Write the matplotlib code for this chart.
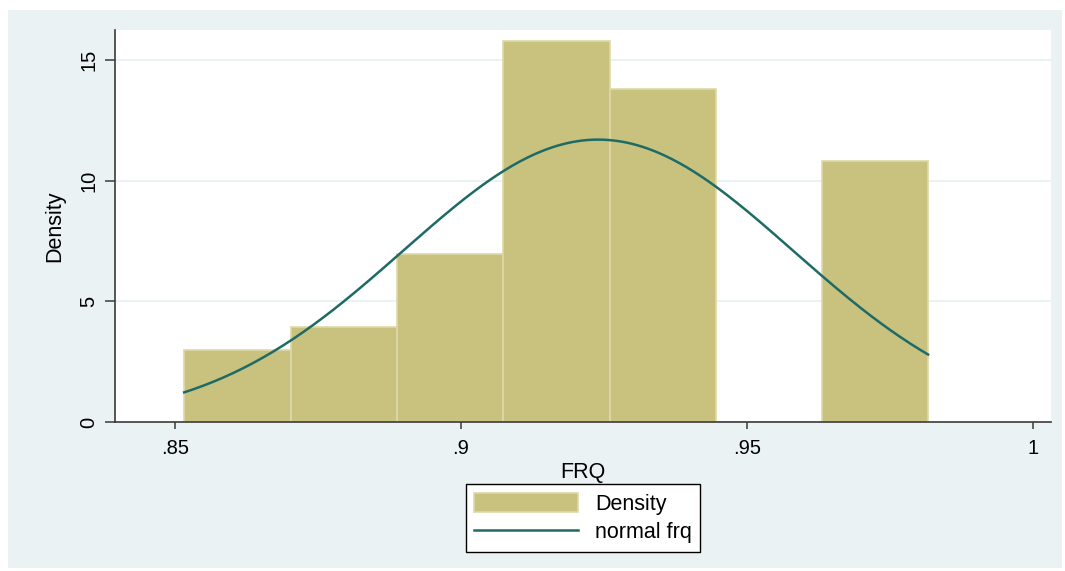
import numpy as np
import matplotlib
matplotlib.use("Agg")
import matplotlib.pyplot as plt
from matplotlib.patches import Rectangle

plt.rcParams['font.family'] = ['Liberation Sans', 'DejaVu Sans']

# Histogram of FRQ (density scale)
bin_edges = [0.8516, 0.8702, 0.8888, 0.9074, 0.9260, 0.9446, 0.9632, 0.9817]
density = [2.98, 3.95, 6.95, 15.79, 13.79, 0.0, 10.82]

# Fitted normal curve parameters
frq_mean = 0.9240
frq_sd = 0.0341

x_ticks = [0.85, 0.90, 0.95, 1.00]
x_tick_labels = ['.85', '.9', '.95', '1']
y_ticks = [0, 5, 10, 15]
y_tick_labels = ['0', '5', '10', '15']

W, H = 1065, 571
fig = plt.figure(figsize=(W / 100, H / 100), dpi=100, facecolor='white')

# Outer graph region background
bg = '#EAF2F3'
fig.add_artist(Rectangle((8 / W, 1 - 568 / H), (1062 - 8) / W, (568 - 10) / H,
                         transform=fig.transFigure, facecolor=bg,
                         edgecolor='none', zorder=-10))

ax = fig.add_axes([115 / W, 1 - 422 / H, (1051 - 115) / W, (422 - 30) / H])
ax.set_facecolor('white')

bar_fill = '#C9C27F'
bar_edge = '#DDD8A8'
line_col = '#1E6B66'

lefts = np.array(bin_edges[:-1])
widths = np.diff(bin_edges)
bars = ax.bar(lefts, density, width=widths, align='edge', color=bar_fill,
              edgecolor=bar_edge, linewidth=1.2, zorder=2, label='Density')

xs = np.linspace(bin_edges[0], bin_edges[-1], 300)
ys = np.exp(-0.5 * ((xs - frq_mean) / frq_sd) ** 2) / (frq_sd * np.sqrt(2 * np.pi))
curve, = ax.plot(xs, ys, color=line_col, linewidth=1.8, zorder=3, label='normal frq')

ax.set_xlim(0.8395, 1.0032)
ax.set_ylim(0, 16.24)

ax.set_xticks(x_ticks)
ax.set_xticklabels(x_tick_labels)
ax.set_yticks(y_ticks)
ax.set_yticklabels(y_tick_labels, rotation=90, va='center')

for v in y_ticks[1:]:
    ax.axhline(v, color='#EAF2F3', linewidth=1.4, zorder=1)

for side in ['top', 'right']:
    ax.spines[side].set_visible(False)
for side in ['left', 'bottom']:
    ax.spines[side].set_color('#3A3A3A')
    ax.spines[side].set_linewidth(1.2)

ax.tick_params(axis='x', direction='out', length=5, width=1.1, color='#3A3A3A',
               labelsize=14.5, pad=7)
ax.tick_params(axis='y', direction='out', length=7, width=1.1, color='#3A3A3A',
               labelsize=14.5, pad=5)

ax.set_xlabel('FRQ', fontsize=15.5, labelpad=3)
ax.set_ylabel('Density', fontsize=15.5, labelpad=10)

leg = ax.legend(handles=[bars, curve], labels=['Density', 'normal frq'],
                loc='center', bbox_to_anchor=(583 / W, 1 - 518 / H),
                bbox_transform=fig.transFigure, fontsize=15.5, frameon=True,
                fancybox=False, edgecolor='black', facecolor='white',
                framealpha=1, handlelength=4.8, handleheight=0.95,
                labelspacing=0.3, borderpad=0.4, handletextpad=0.8,
                borderaxespad=0)
leg.get_frame().set_linewidth(1.0)

fig.savefig('out.png', dpi=100, facecolor='white')
